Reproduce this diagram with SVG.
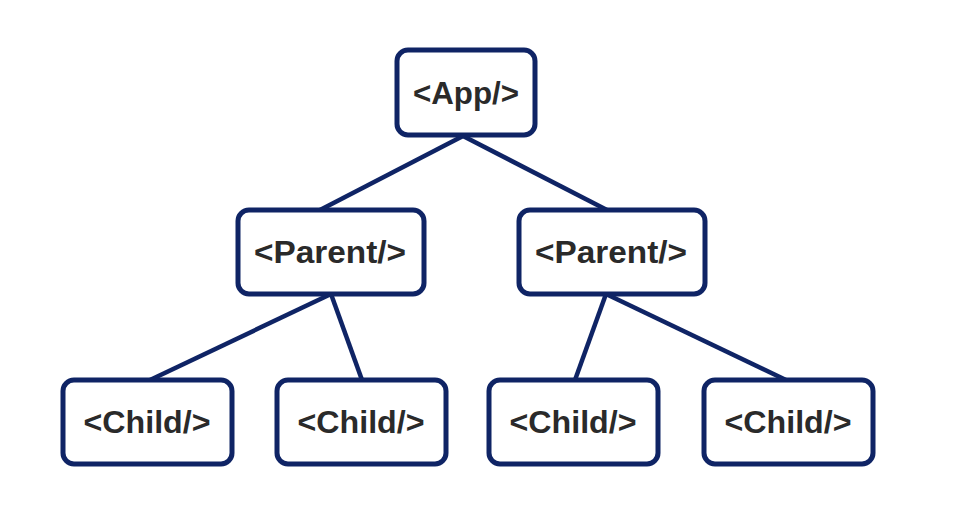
<svg xmlns="http://www.w3.org/2000/svg" width="960" height="511" viewBox="0 0 960 511">
<style>
.box{fill:#fff;stroke:#0f2465;stroke-width:5}
.lbl{font-family:"Liberation Sans",Arial,sans-serif;font-weight:bold;font-size:31px;fill:#2a2a2a;text-anchor:middle}
.edge{stroke:#0f2465;stroke-width:4.5;fill:none}
</style>
<rect width="960" height="511" fill="#fff"/>
<g id="connectors">
<line class="edge" x1="463" y1="136" x2="320" y2="210"/>
<line class="edge" x1="463" y1="136" x2="607" y2="210"/>
<line class="edge" x1="331" y1="294" x2="150" y2="380"/>
<line class="edge" x1="331" y1="294" x2="362" y2="380"/>
<line class="edge" x1="606" y1="294" x2="575" y2="380"/>
<line class="edge" x1="606" y1="294" x2="786" y2="380"/>
</g>
<g id="app"><rect class="box" x="397" y="50" width="138" height="85" rx="11"/><text class="lbl" x="466" y="104" textLength="106" lengthAdjust="spacingAndGlyphs">&lt;App/&gt;</text></g>
<g id="parent1"><rect class="box" x="238" y="210" width="186" height="84" rx="11"/><text class="lbl" x="330" y="263" textLength="152" lengthAdjust="spacingAndGlyphs">&lt;Parent/&gt;</text></g>
<g id="parent2"><rect class="box" x="519" y="210" width="186" height="84" rx="11"/><text class="lbl" x="611" y="263" textLength="152" lengthAdjust="spacingAndGlyphs">&lt;Parent/&gt;</text></g>
<g id="child1"><rect class="box" x="63" y="380" width="169" height="84" rx="11"/><text class="lbl" x="147" y="433" textLength="127" lengthAdjust="spacingAndGlyphs">&lt;Child/&gt;</text></g>
<g id="child2"><rect class="box" x="277" y="380" width="169" height="84" rx="11"/><text class="lbl" x="361" y="433" textLength="127" lengthAdjust="spacingAndGlyphs">&lt;Child/&gt;</text></g>
<g id="child3"><rect class="box" x="489" y="380" width="169" height="84" rx="11"/><text class="lbl" x="573" y="433" textLength="127" lengthAdjust="spacingAndGlyphs">&lt;Child/&gt;</text></g>
<g id="child4"><rect class="box" x="704" y="380" width="169" height="84" rx="11"/><text class="lbl" x="788" y="433" textLength="127" lengthAdjust="spacingAndGlyphs">&lt;Child/&gt;</text></g>
</svg>
